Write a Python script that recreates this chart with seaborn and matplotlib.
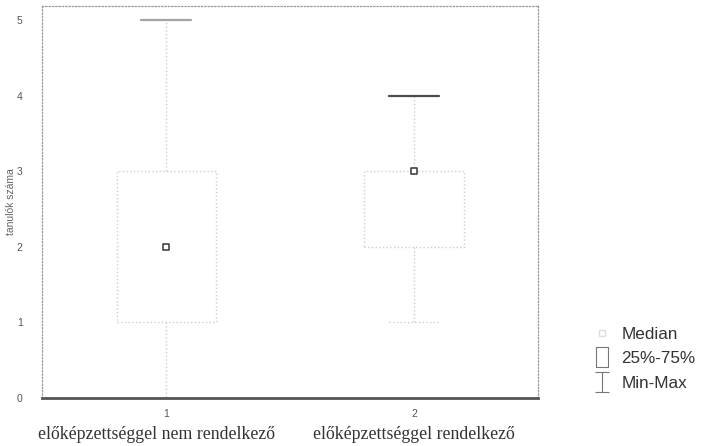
import numpy as np
import pandas as pd
import matplotlib
matplotlib.use("Agg")
import matplotlib.pyplot as plt
from matplotlib.lines import Line2D
from matplotlib.path import Path
import seaborn as sns

# Five-number summaries per group
groups = ["1", "2"]
group_names = ["előképzettséggel nem rendelkező", "előképzettséggel rendelkező"]
mins = [0, 1]
q1s = [1, 2]
medians = [2, 3]
q3s = [3, 3]
maxs = [5, 4]
y_ticks = [0, 1, 2, 3, 4, 5]
y_label = "tanulók száma"

# Long-form table: each group's summary values (quartiles of 5 points land on them)
rows = []
for g, lo, a, m, b, hi in zip(groups, mins, q1s, medians, q3s, maxs):
    for v in (lo, a, m, b, hi):
        rows.append({"csoport": g, "érték": v})
df = pd.DataFrame(rows)

sns.set_style("white")
plt.rcParams["font.family"] = ["Liberation Sans", "DejaVu Sans"]

fig = plt.figure(figsize=(7.04, 4.46), dpi=100)
ax = fig.add_axes([0.060, 0.1076, 0.704, 0.879])

light = "#cdcdcd"
sns.boxplot(data=df, x="csoport", y="érték", order=groups, whis=(0, 100),
            width=0.4, fill=False, color=light, linecolor=light, linewidth=1.0,
            boxprops=dict(linestyle=":", color=light),
            whiskerprops=dict(linestyle=":", color=light),
            capprops=dict(linestyle=":", color=light),
            medianprops=dict(visible=False),
            showfliers=False, ax=ax)

# upper caps drawn solid
cap_colors = ["#a4a4a4", "#4a4a4a"]
caps = [c for cont in ax.containers for c in getattr(cont, "caps", [])]
for i, cap in enumerate(caps[1::2]):
    cap.set_linestyle("-")
    cap.set_linewidth(1.6)
    cap.set_color(cap_colors[i % 2])

# median markers
sns.stripplot(x=groups, y=medians, jitter=False, marker="s", size=5,
              color="white", edgecolor="#444444", linewidth=1.2, ax=ax, zorder=5)

ax.set_xlim(-0.5, 1.5)
ax.set_ylim(0, 5.19)
ax.set_yticks(y_ticks)
ax.set_yticklabels([str(t) for t in y_ticks], fontsize=7.5, color="#555555")
ax.set_xticks(range(len(groups)))
ax.set_xticklabels(groups, fontsize=7.5, color="#555555")
ax.tick_params(axis="y", length=2, width=0.6, color="#888888", pad=12)
ax.tick_params(axis="x", length=2, width=0.6, color="#888888", pad=6)
ax.set_xlabel("")
ax.set_ylabel(y_label, fontsize=7.5, color="#666666")
ax.yaxis.set_label_coords(-0.053, 0.5)

for side in ("top", "left", "right"):
    ax.spines[side].set_linestyle(":")
    ax.spines[side].set_color("#9a9a9a")
    ax.spines[side].set_linewidth(0.9)
ax.spines["bottom"].set_color("#555555")
ax.spines["bottom"].set_linewidth(2.0)

for i, name in enumerate(group_names):
    ax.text(i - 0.04 * (1 - i), -0.094, name, transform=ax.get_xaxis_transform(),
            ha="center", va="center", fontsize=12.8, color="#333333",
            family=["Liberation Serif", "DejaVu Serif"])

# legend
box_sym = Path([(-0.65, -1), (0.65, -1), (0.65, 1), (-0.65, 1), (-0.65, -1)],
               [Path.MOVETO, Path.LINETO, Path.LINETO, Path.LINETO, Path.CLOSEPOLY])
ibeam = Path([(-0.7, 1), (0.7, 1), (0, 1), (0, -1), (-0.7, -1), (0.7, -1)],
             [Path.MOVETO, Path.LINETO, Path.MOVETO, Path.LINETO, Path.MOVETO, Path.LINETO])
handles = [
    Line2D([], [], linestyle="none", marker="s", markersize=4,
           markerfacecolor="white", markeredgecolor="#dddddd"),
    Line2D([], [], linestyle="none", marker=box_sym, markersize=14,
           markerfacecolor="white", markeredgecolor="#777777", markeredgewidth=0.8),
    Line2D([], [], linestyle="none", marker=ibeam, markersize=14,
           markeredgecolor="#777777", markeredgewidth=0.8),
]
fig.legend(handles, ["Median", "25%-75%", "Min-Max"], loc="upper left",
           bbox_to_anchor=(593.5 / 704, 1 - 327 / 446), frameon=False,
           borderpad=0, borderaxespad=0,
           handlelength=1.0, handletextpad=0.62, labelspacing=0.55, fontsize=12.3,
           labelcolor="#333333")

fig.savefig("out.png", dpi=100)
